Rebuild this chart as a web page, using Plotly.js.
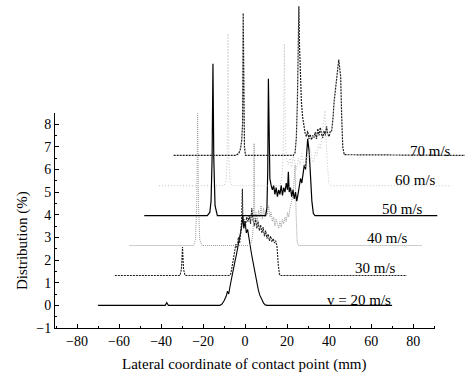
<!DOCTYPE html>
<html>
<head>
<meta charset="utf-8">
<script src="https://cdn.plot.ly/plotly-3.0.1.min.js"></script>
<style>html,body{margin:0;padding:0;background:#fff;}#chart{width:465px;height:380px;}</style>
</head>
<body>
<div id="chart"></div>
<script>
// Series (x in mm, y in % as drawn on the stacked axis)
const x20 = [-70, -38, -37.3, -36.5, -12, -11, -10, -9, -8.4, -7.8, -7, -6.3, -5.6, -4.8, -4.2, -3.5, -2.8, -2.2, -1.6, -1.1, -0.6, 0, 0.6, 1.2, 1.8, 2.4, 3.0, 3.6, 4.2, 4.8, 5.5, 6.3, 7.0, 7.9, 8.8, 9.6, 10.5, 70];
const y20 = [0, 0, 0.12, 0, 0, 0.06, 0.2, 0.4, 0.62, 0.5, 0.92, 1.3, 1.55, 1.95, 2.2, 2.55, 2.75, 3.1, 3.5, 3.95, 3.4, 3.7, 3.2, 3.35, 2.95, 2.75, 2.3, 2.0, 1.7, 1.3, 1.0, 0.68, 0.45, 0.25, 0.1, 0.02, 0, 0];

const x30 = [-62, -31.0, -30.3, -29.8, -29.3, -28.6, -7.5, -6.8, -6.2, -5.6, -5.0, -4.4, -3.8, -3.2, -2.6, -2.0, -1.6, -1.3, -1.0, -0.5, 0.2, 0.8, 1.4, 2.0, 2.6, 3.2, 3.8, 4.4, 5.0, 5.6, 6.2, 6.8, 7.4, 8.0, 8.6, 9.2, 9.8, 10.4, 11.0, 11.6, 12.2, 12.8, 13.4, 14.0, 14.6, 15.2, 15.8, 16.4, 17.2, 77];
const y30 = [1.32, 1.32, 1.6, 2.58, 1.6, 1.32, 1.32, 1.4, 1.7, 2.0, 2.25, 2.7, 2.55, 3.0, 2.75, 3.25, 3.9, 5.15, 3.6, 3.8, 3.55, 3.9, 3.7, 3.95, 3.6, 4.3, 3.75, 3.5, 3.85, 3.4, 3.7, 3.3, 3.55, 3.2, 3.45, 3.05, 3.3, 2.95, 3.15, 2.85, 3.05, 2.8, 2.95, 2.75, 2.85, 2.6, 1.8, 1.35, 1.32, 1.32];

const x40 = [-55, -24.5, -23.6, -23.0, -22.6, -22.2, -21.6, -20.5, 2.5, 3.5, 4.0, 4.3, 4.6, 5.2, 5.8, 6.4, 7.0, 7.6, 8.2, 8.8, 9.4, 10.0, 10.6, 11.2, 11.8, 12.4, 13.0, 13.6, 14.2, 14.8, 15.4, 16.0, 16.6, 17.2, 17.8, 18.4, 19.0, 19.6, 20.2, 20.8, 21.4, 22.0, 22.6, 23.2, 23.8, 24.3, 24.8, 25.5, 84];
const y40 = [2.64, 2.64, 2.9, 4.5, 8.47, 4.5, 2.9, 2.64, 2.64, 3.0, 3.6, 7.15, 3.8, 4.1, 3.7, 4.2, 3.9, 4.4, 3.8, 4.3, 3.9, 4.2, 4.0, 4.4, 3.9, 4.1, 3.7, 3.9, 3.5, 3.8, 3.6, 3.4, 3.7, 3.45, 3.8, 3.6, 3.9, 3.7, 4.1, 3.9, 4.3, 4.5, 4.8, 5.3, 6.2, 4.0, 2.8, 2.64, 2.64];

const x50 = [-48, -18, -16.8, -16.2, -15.7, -15.3, -14.9, -14.3, -13.2, 9.8, 10.4, 10.8, 11.1, 11.4, 11.8, 12.4, 13.0, 13.6, 14.2, 14.8, 15.4, 16.0, 16.6, 17.2, 17.8, 18.4, 19.0, 19.6, 20.2, 20.6, 21.0, 21.6, 22.2, 22.8, 23.4, 24.0, 24.6, 25.2, 25.8, 26.4, 27.0, 27.6, 28.2, 28.8, 29.3, 29.8, 30.5, 31.2, 31.8, 32.5, 33.3, 91.5];
const y50 = [3.96, 3.96, 4.1, 4.6, 6.5, 10.66, 6.5, 4.4, 3.96, 3.96, 4.3, 6.0, 10.0, 7.0, 5.6, 5.3, 5.1, 5.3, 4.9, 5.2, 4.8, 5.1, 4.9, 5.3, 4.85, 5.2, 5.0, 5.4, 5.1, 5.9, 5.0, 5.2, 4.8, 5.1, 4.7, 5.0, 4.6, 4.9, 5.2, 5.6, 5.4, 5.9, 6.2, 6.0, 6.7, 7.35, 6.8, 5.6, 4.6, 4.05, 3.96, 3.96];

const x60 = [-41, -10, -9.0, -8.5, -8.1, -7.7, -7.2, -6.2, 16.5, 17.5, 18.2, 18.7, 19.2, 19.8, 20.6, 21.4, 22.2, 23.0, 23.8, 24.6, 25.4, 26.2, 27.0, 27.8, 28.6, 29.4, 30.2, 31.0, 31.8, 32.6, 33.4, 34.2, 35.0, 35.8, 36.6, 37.3, 38.0, 38.6, 39.2, 39.8, 40.6, 98];
const y60 = [5.28, 5.28, 5.5, 6.5, 12.0, 6.5, 5.5, 5.28, 5.28, 5.6, 6.8, 11.55, 7.2, 6.4, 6.2, 6.5, 6.1, 6.6, 6.3, 6.0, 6.5, 6.2, 6.7, 6.3, 6.1, 6.6, 6.4, 6.9, 6.5, 6.3, 6.8, 6.6, 7.1, 6.9, 7.5, 8.0, 8.6, 7.2, 6.0, 5.4, 5.28, 5.28];

const x70 = [-34, -4.5, -3.0, -2.2, -1.6, -1.2, -0.9, -0.6, -0.3, 0.2, 1.2, 23.0, 23.8, 24.4, 24.9, 25.3, 25.6, 25.9, 26.3, 26.8, 27.4, 28.0, 28.6, 29.2, 29.8, 30.4, 31.0, 31.6, 32.2, 32.8, 33.4, 34.0, 34.6, 35.2, 35.8, 36.4, 37.0, 37.6, 38.2, 38.8, 39.4, 40.0, 40.6, 41.2, 41.8, 42.4, 43.0, 43.6, 44.2, 44.6, 45.0, 45.5, 46.0, 46.5, 47.2, 105];
const y70 = [6.62, 6.62, 6.7, 6.9, 7.3, 8.0, 12.9, 8.0, 7.0, 6.62, 6.62, 6.62, 6.75, 7.4, 9.0, 11.0, 13.2, 11.5, 10.0, 9.0, 8.3, 7.9, 7.6, 7.45, 7.7, 7.35, 7.55, 7.3, 7.5, 7.4, 7.65, 7.35, 7.8, 7.5, 7.85, 7.55, 7.4, 7.7, 7.5, 7.9, 7.55, 7.45, 7.7, 7.7, 8.2, 9.0, 9.6, 10.2, 10.8, 10.85, 10.5, 10.1, 8.3, 7.0, 6.65, 6.62];

const seriesLabels = ['v = 20 m/s', '30 m/s', '40 m/s', '50 m/s', '60 m/s', '70 m/s'];
const xTickVals = [-80, -60, -40, -20, 0, 20, 40, 60, 80];
const yTickVals = [-1, 0, 1, 2, 3, 4, 5, 6, 7, 8];

const serif = 'Liberation Serif, Times New Roman, serif';
const styles = [
  {color: '#000000', width: 1.1, dash: 'solid'},
  {color: '#1e1e1e', width: 1.1, dash: '2px,1px'},
  {color: '#9a9a9a', width: 1.0, dash: '1px,1px'},
  {color: '#000000', width: 1.2, dash: 'solid'},
  {color: '#c4c4c4', width: 1.0, dash: '1px,2px'},
  {color: '#1e1e1e', width: 1.2, dash: '2px,1px'}
];
const xs = [x20, x30, x40, x50, x60, x70];
const ys = [y20, y30, y40, y50, y60, y70];

const traces = xs.map((x, i) => ({
  type: 'scatter', mode: 'lines', x: x, y: ys[i], name: seriesLabels[i],
  line: {color: styles[i].color, width: styles[i].width, dash: styles[i].dash},
  hoverinfo: 'skip', showlegend: false, xaxis: 'x', yaxis: 'y'
}));
// empty trace that carries the visible frame axes
traces.push({type: 'scatter', mode: 'lines', x: [], y: [], xaxis: 'x2', yaxis: 'y2', showlegend: false});

const labelPos = [[38.1, 0.24], [51.4, 1.64], [57.1, 2.96], [64.3, 4.24], [70.5, 5.53], [77.6, 6.83]];
const annotations = seriesLabels.map((t, i) => ({
  text: t, x: labelPos[i][0], y: labelPos[i][1], xref: 'x', yref: 'y',
  xanchor: 'left', yanchor: 'middle', showarrow: false,
  font: {family: serif, size: 15, color: '#000'}
}));
annotations.push({
  text: 'Lateral coordinate of contact point (mm)', xref: 'paper', yref: 'paper',
  x: 0.461, y: -0.1128, xanchor: 'center', yanchor: 'middle', showarrow: false,
  font: {family: serif, size: 15, color: '#000'}
});
annotations.push({
  text: 'Distribution (%)', xref: 'paper', yref: 'paper', textangle: -90,
  x: -0.0805, y: 0.268, xanchor: 'center', yanchor: 'middle', showarrow: false,
  font: {family: serif, size: 15, color: '#000'}
});

const layout = {
  width: 465, height: 380,
  margin: {l: 55, r: 0, t: 0, b: 52, pad: 0},
  paper_bgcolor: '#ffffff', plot_bgcolor: 'rgba(0,0,0,0)',
  showlegend: false,
  xaxis: {domain: [0, 1], range: [-90.5, 104.7], visible: false, fixedrange: true},
  yaxis: {domain: [0, 1], range: [-1, 13.48], visible: false, fixedrange: true},
  xaxis2: {
    domain: [0, 0.9273], range: [-90.5, 90.5], anchor: 'y2',
    showline: true, linecolor: '#000', linewidth: 1, mirror: false,
    showgrid: false, zeroline: false,
    tickmode: 'array', tickvals: xTickVals, ticks: 'inside', ticklen: 4, tickcolor: '#000', tickwidth: 1,
    minor: {tickmode: 'array', tickvals: [-90, -70, -50, -30, -10, 10, 30, 50, 70, 90], ticks: 'inside', ticklen: 2, tickcolor: '#000', showgrid: false},
    tickfont: {family: serif, size: 14, color: '#000'}
  },
  yaxis2: {
    domain: [0, 0.656], range: [-1, 8.5], anchor: 'x2',
    showline: true, linecolor: '#000', linewidth: 1, mirror: false,
    showgrid: false, zeroline: false,
    tickmode: 'array', tickvals: yTickVals, ticks: 'inside', ticklen: 4, tickcolor: '#000', tickwidth: 1,
    minor: {tickmode: 'linear', tick0: -1, dtick: 0.5, ticks: 'inside', ticklen: 2, tickcolor: '#000', showgrid: false},
    tickfont: {family: serif, size: 14, color: '#000'}
  },
  annotations: annotations
};

Plotly.newPlot('chart', traces, layout, {staticPlot: true, displayModeBar: false});
</script>
</body>
</html>
